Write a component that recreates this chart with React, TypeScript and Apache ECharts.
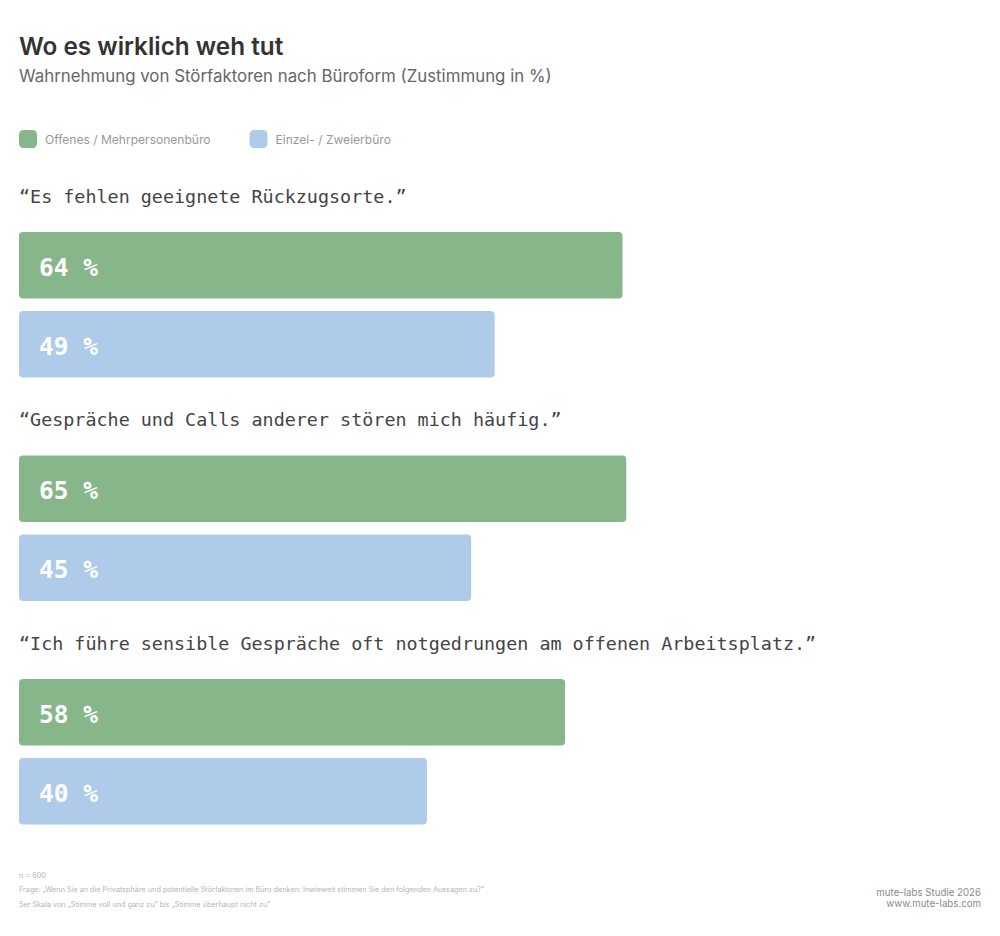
import React, { useEffect, useRef } from "react";
import * as echarts from "echarts";

const questions = [
  "“Es fehlen geeignete Rückzugsorte.”",
  "“Gespräche und Calls anderer stören mich häufig.”",
  "“Ich führe sensible Gespräche oft notgedrungen am offenen Arbeitsplatz.”",
];
const seriesNames = ["Offenes / Mehrpersonenbüro", "Einzel- / Zweierbüro"];
// Printed percentages
const openLabels = [64, 65, 58];
const singleLabels = [49, 45, 40];
// Drawn bar lengths, on the axis of the green bars
const openLengths = [64.2, 64.6, 58.1];
const singleLengths = [50.6, 48.1, 43.4];
const footnotes = [
  "n = 600",
  "Frage: „Wenn Sie an die Privatsphäre und potentielle Störfaktoren im Büro denken: Inwieweit stimmen Sie den folgenden Aussagen zu?“",
  "5er Skala von „Stimme voll und ganz zu“ bis „Stimme überhaupt nicht zu“",
];
const credits = ["mute-labs Studie 2026", "www.mute-labs.com"];

const SANS = "Inter, 'Noto Sans', sans-serif";
const MONO = "'DejaVu Sans Mono', monospace";

export default function App() {
  const ref = useRef<HTMLDivElement>(null);
  useEffect(() => {
    document.body.style.margin = "0";
    const chart = echarts.init(ref.current!, null, { renderer: "svg" });
    const barSeries = (name: string, lengths: number[], labels: number[], color: string) => ({
      name,
      type: "bar",
      data: lengths,
      barWidth: 66.5,
      barGap: "18.8%",
      itemStyle: { color, borderRadius: 4 },
      label: {
        show: true,
        position: "insideLeft",
        distance: 20,
        offset: [0, 2],
        formatter: (p: any) => `${labels[p.dataIndex]} %`,
        color: "#ffffff",
        fontFamily: MONO,
        fontWeight: "bold",
        fontSize: 24.5,
      },
    });
    chart.setOption({
      animation: false,
      backgroundColor: "#ffffff",
      title: [
        {
          text: "Wo es wirklich weh tut",
          left: 19,
          top: 34,
          padding: 0,
          textStyle: { fontFamily: SANS, fontSize: 24.3, fontWeight: 600, color: "#333333" },
        },
        {
          text: "Wahrnehmung von Störfaktoren nach Büroform (Zustimmung in %)",
          left: 19,
          top: 67,
          padding: 0,
          textStyle: { fontFamily: SANS, fontSize: 16.85, fontWeight: 400, color: "#666666" },
        },
        ...questions.map((q, i) => ({
          text: q,
          left: 19,
          top: 187 + i * 223.5,
          padding: 0,
          textStyle: { fontFamily: MONO, fontSize: 18.4, fontWeight: 400, color: "#444444" },
        })),
        ...footnotes.map((t, i) => ({
          text: t,
          left: 19,
          top: [872, 886, 901][i],
          padding: 0,
          textStyle: { fontFamily: SANS, fontSize: 7.27, fontWeight: 400, color: "#b4b4b4" },
        })),
        ...credits.map((t, i) => ({
          text: t,
          right: 19,
          top: 887 + i * 11.5,
          padding: 0,
          textStyle: { fontFamily: SANS, fontSize: 9.7, fontWeight: 400, color: "#8a8a8a" },
        })),
      ],
      legend: {
        left: 19,
        top: 130,
        padding: 0,
        itemWidth: 18,
        itemHeight: 18,
        itemGap: 39,
        icon: "roundRect",
        selectedMode: false,
        data: seriesNames,
        textStyle: { fontFamily: SANS, fontSize: 12.05, color: "#999999", padding: [0, 0, 0, 3] },
      },
      grid: { left: 19, top: 193, width: 940, height: 670.5 },
      xAxis: { type: "value", min: 0, max: 100, show: false },
      yAxis: { type: "category", inverse: true, data: questions, show: false },
      series: [
        barSeries(seriesNames[0], openLengths, openLabels, "#88B68B"),
        barSeries(seriesNames[1], singleLengths, singleLabels, "#AECCEA"),
      ],
    });
    return () => chart.dispose();
  }, []);
  return <div ref={ref} style={{ width: 1000, height: 936 }} />;
}
